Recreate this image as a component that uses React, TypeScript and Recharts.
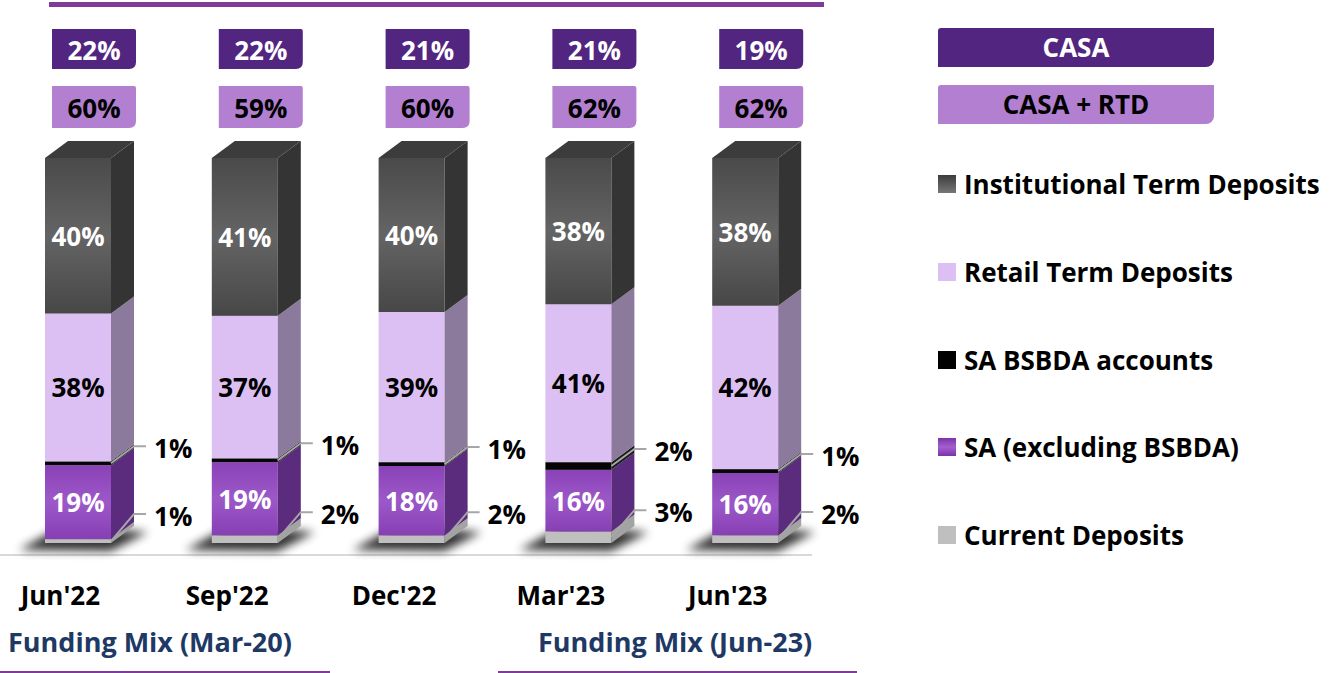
import React from 'react';
import { BarChart, Bar, XAxis, YAxis, LabelList } from 'recharts';

const PERIODS = ["Jun'22", "Sep'22", "Dec'22", "Mar'23", "Jun'23"];
const CURRENT = [1, 2, 2, 3, 2];
const SA_EX = [19, 19, 18, 16, 16];
const SA_BSBDA = [1, 1, 1, 2, 1];
const RETAIL_TD = [38, 37, 39, 41, 42];
const INST_TD = [40, 41, 40, 38, 38];
const CASA = [22, 22, 21, 21, 19];
const CASA_RTD = [60, 59, 60, 62, 62];

const data = PERIODS.map((p, i) => ({
  period: p,
  current: CURRENT[i],
  sa: SA_EX[i],
  bsbda: SA_BSBDA[i],
  retail: RETAIL_TD[i],
  inst: INST_TD[i],
}));

const FONT = '"Open Sans", Lato, sans-serif';
const FS = 26;
const DARK_PURPLE = '#512580';
const LIGHT_PURPLE = '#B37FD0';
const LINE_PURPLE = '#7E3C98';
const DX = 23;
const DY = 17;

// legend order (top to bottom)
const LEGEND = [
  { name: 'Institutional Term Deposits', swatch: 'linear-gradient(#3c3c3c, #777)' },
  { name: 'Retail Term Deposits', swatch: '#DCC0F3' },
  { name: 'SA BSBDA accounts', swatch: '#000' },
  { name: 'SA (excluding BSBDA)', swatch: 'linear-gradient(#7a34a8, #a35fd0, #7a34a8)' },
  { name: 'Current Deposits', swatch: '#BFBFBF' },
];

const make3D = (front: string, side: string, top?: string, shadow?: boolean) => (props: any) => {
  const { x, y, width: w, height: h } = props;
  if (x == null || w == null || h == null) return <g />;
  const b = y + h;
  return (
    <g>
      {shadow && (
        <polygon
          points={`${x - 26},${b + 7} ${x + w},${b + 8} ${x + w + DX + 14},${b - DY + 6} ${x + DX - 6},${b - DY}`}
          fill="#000"
          opacity={0.8}
          filter="url(#shadowBlur)"
        />
      )}
      <rect x={x} y={y} width={w} height={h} fill={front} />
      <polygon points={`${x + w},${y} ${x + w + DX},${y - DY} ${x + w + DX},${b - DY} ${x + w},${b}`} fill={side} />
      {top && <polygon points={`${x},${y} ${x + DX},${y - DY} ${x + w + DX},${y - DY} ${x + w},${y}`} fill={top} />}
    </g>
  );
};

const inside = (vals: number[], color: string) => (props: any) => {
  const vb = props.viewBox || props;
  const { x, y, width, height } = vb;
  const i = props.index;
  return (
    <text x={x + width / 2} y={y + height / 2} textAnchor="middle" dominantBaseline="central"
      fill={color} fontSize={FS} fontWeight={700} fontFamily={FONT}>
      {vals[i]}%
    </text>
  );
};

const outside = (vals: number[], lift: number) => (props: any) => {
  const vb = props.viewBox || props;
  const { x, y, width, height } = vb;
  const i = props.index;
  const mid = y + height / 2;
  const ty = mid - lift;
  const x1 = x + width;
  const x2 = x1 + DX;
  const x3 = x2 + 12;
  return (
    <g>
      <polyline points={`${x1},${mid} ${x2},${ty - 2} ${x3},${ty - 2}`} stroke="#A6A6A6" strokeWidth={2} fill="none" />
      <text x={x3 + 8} y={ty} dominantBaseline="central" fill="#000" fontSize={FS} fontWeight={700} fontFamily={FONT}>
        {vals[i]}%
      </text>
    </g>
  );
};

const boxPath = (x: number, y: number, w: number, h: number) => {
  const r = 7;
  const r2 = 2;
  return `M${x},${y} H${x + w - r2} Q${x + w},${y} ${x + w},${y + r2} V${y + h - r} Q${x + w},${y + h} ${x + w - r},${y + h} H${x} Z`;
};

const ratioBoxes = (props: any) => {
  const vb = props.viewBox || props;
  const i = props.index;
  const bx = vb.x + 7;
  const w = 84;
  return (
    <g>
      <path d={boxPath(bx, 29, w, 40)} fill={DARK_PURPLE} />
      <text x={bx + w / 2} y={50} textAnchor="middle" dominantBaseline="central" fill="#fff"
        fontSize={FS} fontWeight={700} fontFamily={FONT}>{CASA[i]}%</text>
      <path d={boxPath(bx, 86, w, 42)} fill={LIGHT_PURPLE} />
      <text x={bx + w / 2} y={108} textAnchor="middle" dominantBaseline="central" fill="#000"
        fontSize={FS} fontWeight={700} fontFamily={FONT}>{CASA_RTD[i]}%</text>
    </g>
  );
};

const PeriodTick = (props: any) => {
  const { x, y, payload } = props;
  return (
    <text x={x - 18} y={y + 62} textAnchor="middle" fill="#000" fontSize={FS} fontWeight={700} fontFamily={FONT}>
      {payload.value}
    </text>
  );
};

export default function App() {
  return (
    <div style={{ position: 'absolute', left: 0, top: 0, width: 1329, height: 673, background: '#fff', fontFamily: FONT, overflow: 'hidden' }}>
      <div style={{ position: 'absolute', left: 49, top: 2, width: 775, height: 5, background: LINE_PURPLE }} />
      <div style={{ position: 'absolute', left: 0, top: 554, width: 812, height: 2, background: '#D9D9D9' }} />

      <div style={{ position: 'absolute', left: -5, top: 0 }}>
        <BarChart width={900} height={673} data={data} stackOffset="expand"
          margin={{ top: 158, right: 66, bottom: 0, left: 0 }}>
          <defs>
            <filter id="shadowBlur" x="-50%" y="-50%" width="200%" height="200%">
              <feGaussianBlur stdDeviation="5" />
            </filter>
            <linearGradient id="instFront" x1="0" y1="0" x2="0" y2="1">
              <stop offset="0" stopColor="#4a4a4a" />
              <stop offset="0.5" stopColor="#646464" />
              <stop offset="1" stopColor="#474747" />
            </linearGradient>
            <linearGradient id="saFront" x1="0" y1="0" x2="0" y2="1">
              <stop offset="0" stopColor="#8a42b7" />
              <stop offset="0.5" stopColor="#9c58c8" />
              <stop offset="1" stopColor="#873fb4" />
            </linearGradient>
          </defs>
          <XAxis dataKey="period" height={130} axisLine={false} tickLine={false} tickSize={0} tickMargin={0}
            tick={<PeriodTick />} interval={0} />
          <YAxis hide type="number" domain={[0, 1]} />
          <Bar dataKey="current" stackId="a" barSize={66} isAnimationActive={false}
            shape={make3D('#BFBFBF', '#A3A3A3', undefined, true)}>
            <LabelList dataKey="current" content={outside(CURRENT, 25)} />
          </Bar>
          <Bar dataKey="sa" stackId="a" barSize={66} isAnimationActive={false}
            shape={make3D('url(#saFront)', '#5B2B7D')}>
            <LabelList dataKey="sa" content={inside(SA_EX, '#fff')} />
          </Bar>
          <Bar dataKey="bsbda" stackId="a" barSize={66} isAnimationActive={false}
            shape={make3D('#050505', '#1a1a1a')}>
            <LabelList dataKey="bsbda" content={outside(SA_BSBDA, 15)} />
          </Bar>
          <Bar dataKey="retail" stackId="a" barSize={66} isAnimationActive={false}
            shape={make3D('#DCC0F3', '#8C7A9C')}>
            <LabelList dataKey="retail" content={inside(RETAIL_TD, '#000')} />
          </Bar>
          <Bar dataKey="inst" stackId="a" barSize={66} isAnimationActive={false}
            shape={make3D('url(#instFront)', '#343434', '#3c3c3c')}>
            <LabelList dataKey="inst" content={inside(INST_TD, '#fff')} />
            <LabelList dataKey="inst" content={ratioBoxes} />
          </Bar>
        </BarChart>
      </div>

      <div style={{ position: 'absolute', left: 938, top: 28, width: 276, height: 39, background: DARK_PURPLE,
        borderRadius: '3px 0 8px 0', color: '#fff', fontWeight: 700, fontSize: FS, lineHeight: '39px', textAlign: 'center' }}>
        CASA
      </div>
      <div style={{ position: 'absolute', left: 938, top: 85, width: 276, height: 39, background: LIGHT_PURPLE,
        borderRadius: '3px 0 8px 0', color: '#000', fontWeight: 700, fontSize: FS, lineHeight: '39px', textAlign: 'center' }}>
        CASA + RTD
      </div>

      {LEGEND.map((item, i) => (
        <div key={item.name} style={{ position: 'absolute', left: 938, top: 184 + i * 87.8 - 18, height: 36,
          display: 'flex', alignItems: 'center', whiteSpace: 'nowrap' }}>
          <span style={{ display: 'inline-block', width: 18, height: 18, background: item.swatch, marginRight: 8 }} />
          <span style={{ fontSize: FS, fontWeight: 700, color: '#000', lineHeight: '36px' }}>{item.name}</span>
        </div>
      ))}

      <div style={{ position: 'absolute', left: 8, top: 624, fontSize: 27, fontWeight: 700, color: '#203864', whiteSpace: 'nowrap', lineHeight: '36px' }}>
        Funding Mix (Mar-20)
      </div>
      <div style={{ position: 'absolute', left: 538, top: 624, fontSize: 27, fontWeight: 700, color: '#203864', whiteSpace: 'nowrap', lineHeight: '36px' }}>
        Funding Mix (Jun-23)
      </div>
      <div style={{ position: 'absolute', left: 0, top: 671, width: 330, height: 2, background: LINE_PURPLE }} />
      <div style={{ position: 'absolute', left: 498, top: 671, width: 359, height: 2, background: LINE_PURPLE }} />
    </div>
  );
}
